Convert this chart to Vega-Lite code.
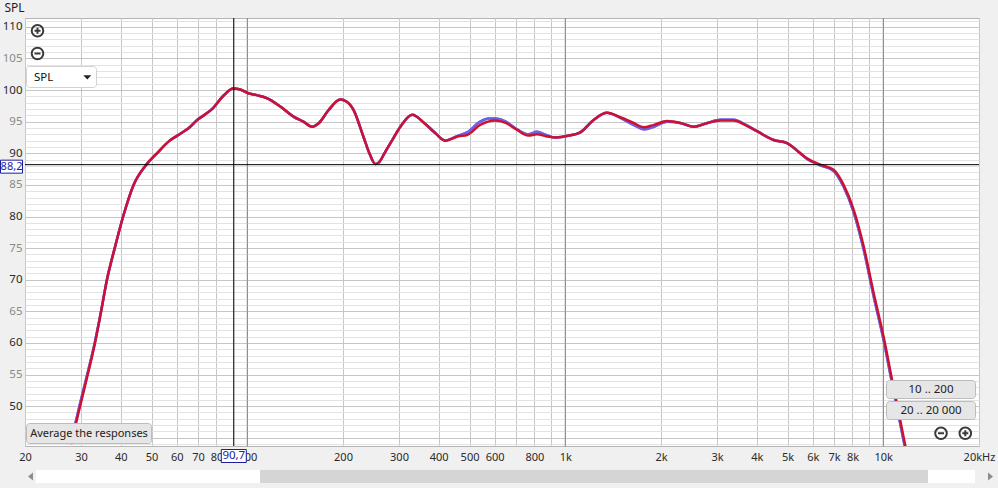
{
  "$schema": "https://vega.github.io/schema/vega-lite/v6.json",
  "width": 954,
  "height": 428,
  "padding": {"left": 25, "top": 18, "right": 19, "bottom": 42},
  "autosize": {"type": "none"},
  "background": "#f0f0f0",
  "config": {
    "view": {"fill": "white", "stroke": "#b4b4b4"},
    "font": "Noto Sans",
    "text": {"font": "Noto Sans"}
  },
  "datasets": {
    "red": [
      {"f": 27.9, "db": 44.0}, {"f": 29.0, "db": 47.5}, {"f": 29.8, "db": 50.0}, {"f": 31.5, "db": 55.0},
      {"f": 33.2, "db": 60.0}, {"f": 34.7, "db": 65.0}, {"f": 36.2, "db": 70.0}, {"f": 38.3, "db": 75.0},
      {"f": 40.7, "db": 80.0}, {"f": 43.9, "db": 85.0}, {"f": 47.8, "db": 88.0}, {"f": 52.0, "db": 90.0},
      {"f": 57.0, "db": 92.0}, {"f": 61.6, "db": 93.1}, {"f": 65.5, "db": 94.0}, {"f": 69.7, "db": 95.3},
      {"f": 74.0, "db": 96.2}, {"f": 78.2, "db": 97.2}, {"f": 84.1, "db": 99.1}, {"f": 90.4, "db": 100.25},
      {"f": 95.0, "db": 100.1}, {"f": 100.7, "db": 99.5}, {"f": 107, "db": 99.2}, {"f": 115.6, "db": 98.7},
      {"f": 127, "db": 97.4}, {"f": 139.7, "db": 95.8}, {"f": 150, "db": 95.0}, {"f": 160, "db": 94.2},
      {"f": 168, "db": 94.8}, {"f": 180, "db": 96.8}, {"f": 196, "db": 98.5}, {"f": 205, "db": 98.2},
      {"f": 215.6, "db": 96.9}, {"f": 231.6, "db": 92.7}, {"f": 243, "db": 89.8}, {"f": 252.8, "db": 88.3},
      {"f": 260, "db": 88.6}, {"f": 270, "db": 90.0}, {"f": 285, "db": 92.0}, {"f": 303, "db": 94.2},
      {"f": 330, "db": 96.1}, {"f": 360, "db": 94.8}, {"f": 390, "db": 93.2}, {"f": 419, "db": 92.0},
      {"f": 461, "db": 92.7}, {"f": 491, "db": 92.9}, {"f": 540, "db": 94.5}, {"f": 602, "db": 95.2},
      {"f": 650, "db": 94.8}, {"f": 705, "db": 93.7}, {"f": 765, "db": 92.8}, {"f": 815, "db": 93.0},
      {"f": 870, "db": 92.7}, {"f": 930, "db": 92.5}, {"f": 1030, "db": 92.8}, {"f": 1115, "db": 93.3},
      {"f": 1230, "db": 95.3}, {"f": 1353, "db": 96.4}, {"f": 1490, "db": 95.7}, {"f": 1640, "db": 94.8},
      {"f": 1764, "db": 94.1}, {"f": 1900, "db": 94.5}, {"f": 2088, "db": 95.1}, {"f": 2300, "db": 94.8},
      {"f": 2532, "db": 94.2}, {"f": 2800, "db": 94.8}, {"f": 3074, "db": 95.2}, {"f": 3384, "db": 95.2},
      {"f": 3700, "db": 94.4}, {"f": 4008, "db": 93.5}, {"f": 4520, "db": 92.1}, {"f": 4980, "db": 91.6},
      {"f": 5484, "db": 90.0}, {"f": 5756, "db": 89.2}, {"f": 6338, "db": 88.2}, {"f": 6980, "db": 87.4},
      {"f": 7504, "db": 85.0}, {"f": 8068, "db": 81.1}, {"f": 8674, "db": 75.3}, {"f": 9326, "db": 67.9},
      {"f": 10020, "db": 61.0}, {"f": 10652, "db": 54.2}, {"f": 11200, "db": 48.8}, {"f": 11732, "db": 43.7},
      {"f": 12100, "db": 40.5}
    ],
    "blue": [
      {"f": 27.9, "db": 44.4}, {"f": 29.0, "db": 47.9}, {"f": 29.8, "db": 50.4}, {"f": 31.5, "db": 55.3},
      {"f": 33.2, "db": 60.2}, {"f": 34.7, "db": 65.0}, {"f": 36.2, "db": 70.0}, {"f": 38.3, "db": 75.0},
      {"f": 40.7, "db": 80.0}, {"f": 43.9, "db": 85.0}, {"f": 47.8, "db": 88.0}, {"f": 52.0, "db": 90.0},
      {"f": 57.0, "db": 92.0}, {"f": 61.6, "db": 93.1}, {"f": 65.5, "db": 94.0}, {"f": 69.7, "db": 95.3},
      {"f": 74.0, "db": 96.2}, {"f": 78.2, "db": 97.2}, {"f": 84.1, "db": 99.1}, {"f": 90.4, "db": 100.25},
      {"f": 95.0, "db": 100.1}, {"f": 100.7, "db": 99.5}, {"f": 107, "db": 99.2}, {"f": 115.6, "db": 98.7},
      {"f": 127, "db": 97.4}, {"f": 139.7, "db": 95.8}, {"f": 150, "db": 95.0}, {"f": 160, "db": 94.2},
      {"f": 168, "db": 94.8}, {"f": 180, "db": 96.8}, {"f": 196, "db": 98.5}, {"f": 205, "db": 98.2},
      {"f": 215.6, "db": 96.9}, {"f": 231.6, "db": 92.7}, {"f": 243, "db": 89.8}, {"f": 252.8, "db": 88.3},
      {"f": 260, "db": 88.6}, {"f": 270, "db": 90.0}, {"f": 285, "db": 92.0}, {"f": 303, "db": 94.2},
      {"f": 330, "db": 96.1}, {"f": 360, "db": 94.8}, {"f": 390, "db": 93.2}, {"f": 419, "db": 92.0},
      {"f": 461, "db": 92.8}, {"f": 491, "db": 93.3}, {"f": 540, "db": 95.0}, {"f": 575, "db": 95.5},
      {"f": 602, "db": 95.5}, {"f": 650, "db": 95.0}, {"f": 705, "db": 93.8}, {"f": 765, "db": 93.0},
      {"f": 815, "db": 93.4}, {"f": 870, "db": 92.9}, {"f": 930, "db": 92.5}, {"f": 1030, "db": 92.8},
      {"f": 1115, "db": 93.3}, {"f": 1230, "db": 95.3}, {"f": 1353, "db": 96.4}, {"f": 1490, "db": 95.6},
      {"f": 1640, "db": 94.5}, {"f": 1764, "db": 93.8}, {"f": 1900, "db": 94.2}, {"f": 2088, "db": 95.0},
      {"f": 2300, "db": 94.8}, {"f": 2532, "db": 94.2}, {"f": 2800, "db": 94.8}, {"f": 3074, "db": 95.3},
      {"f": 3384, "db": 95.3}, {"f": 3700, "db": 94.5}, {"f": 4008, "db": 93.5}, {"f": 4520, "db": 92.1},
      {"f": 4980, "db": 91.6}, {"f": 5484, "db": 90.0}, {"f": 5756, "db": 89.1}, {"f": 6338, "db": 88.1},
      {"f": 6980, "db": 87.2}, {"f": 7504, "db": 84.7}, {"f": 8068, "db": 80.7}, {"f": 8674, "db": 74.8},
      {"f": 9326, "db": 67.4}, {"f": 10020, "db": 60.5}, {"f": 10652, "db": 53.7}, {"f": 11200, "db": 48.3},
      {"f": 11732, "db": 43.2}, {"f": 12100, "db": 40.0}
    ],
    "one": [{}]
  },
  "layer": [
    {
      "data": {"name": "blue"},
      "mark": {"type": "line", "color": "#6c62e6", "strokeWidth": 2.5, "interpolate": "monotone", "clip": true},
      "encoding": {
        "x": {
          "field": "f", "type": "quantitative",
          "scale": {"type": "log", "domain": [20, 20000], "nice": false},
          "axis": {
            "title": null,
            "tickCount": 200,
            "values": [20, 30, 40, 50, 60, 70, 80, 90, 100, 200, 300, 400, 500, 600, 700, 800, 900, 1000, 2000, 3000, 4000, 5000, 6000, 7000, 8000, 9000, 10000, 20000],
            "labelExpr": "indexof([90, 700, 900, 9000], datum.value) >= 0 ? '' : datum.value == 20000 ? '20kHz' : datum.value >= 1000 ? (datum.value / 1000) + 'k' : '' + datum.value",
            "grid": true,
            "gridColor": {"condition": {"test": "datum.value == 100 || datum.value == 1000 || datum.value == 10000", "value": "#8e8e8e"}, "value": "#c6c6c6"},
            "gridWidth": 1,
            "ticks": false,
            "domain": false,
            "labelFlush": false,
            "labelOverlap": false,
            "labelPadding": 5,
            "labelFontSize": 11,
            "labelColor": "#2a2a2a",
            "labelFont": "Noto Sans"
          }
        },
        "y": {
          "field": "db", "type": "quantitative",
          "scale": {"domain": [43.7, 111.4], "nice": false, "zero": false},
          "axis": {
            "title": "SPL",
            "titleAngle": 0,
            "titleX": -21,
            "titleY": -7,
            "titleAlign": "left",
            "titleBaseline": "alphabetic",
            "titleFontSize": 12,
            "titleFontWeight": "normal",
            "titleColor": "#1e1e1e",
            "titleFont": "Noto Sans",
            "tickCount": 200,
            "values": [44, 45, 46, 47, 48, 49, 50, 51, 52, 53, 54, 55, 56, 57, 58, 59, 60, 61, 62, 63, 64, 65, 66, 67, 68, 69, 70, 71, 72, 73, 74, 75, 76, 77, 78, 79, 80, 81, 82, 83, 84, 85, 86, 87, 88, 89, 90, 91, 92, 93, 94, 95, 96, 97, 98, 99, 100, 101, 102, 103, 104, 105, 106, 107, 108, 109, 110, 111],
            "labelExpr": "(datum.value % 5 == 0 && datum.value >= 50) ? '' + datum.value : ''",
            "grid": true,
            "gridColor": {"condition": {"test": "datum.value % 5 == 0", "value": "#c6c6c6"}, "value": "#e3e3e3"},
            "ticks": false,
            "domain": false,
            "labelOverlap": false,
            "labelPadding": 3,
            "labelFontSize": 11.5,
            "labelFont": "Noto Sans",
            "labelColor": {"condition": {"test": "datum.value % 10 == 0", "value": "#2a2a2a"}, "value": "#8a8a8a"}
          }
        }
      }
    },
    {
      "data": {"name": "one"},
      "layer": [
        {
          "mark": {"type": "rule", "color": "#8e8e8e", "strokeWidth": 1},
          "encoding": {"x": {"datum": 100, "type": "quantitative"}}
        },
        {
          "mark": {"type": "rule", "color": "#8e8e8e", "strokeWidth": 1},
          "encoding": {"x": {"datum": 1000, "type": "quantitative"}}
        },
        {
          "mark": {"type": "rule", "color": "#8e8e8e", "strokeWidth": 1},
          "encoding": {"x": {"datum": 10000, "type": "quantitative"}}
        }
      ]
    },
    {
      "data": {"name": "blue"},
      "mark": {"type": "line", "color": "#6c62e6", "strokeWidth": 2.5, "interpolate": "monotone", "clip": true},
      "encoding": {
        "x": {"field": "f", "type": "quantitative"},
        "y": {"field": "db", "type": "quantitative"}
      }
    },
    {
      "data": {"name": "red"},
      "mark": {"type": "line", "color": "#cc1133", "strokeWidth": 2.5, "interpolate": "monotone", "clip": true},
      "encoding": {
        "x": {"field": "f", "type": "quantitative"},
        "y": {"field": "db", "type": "quantitative"}
      }
    },
    {
      "data": {"name": "one"},
      "layer": [
        {
          "mark": {"type": "rule", "color": "#000000", "strokeWidth": 1},
          "encoding": {"x": {"datum": 90.7, "type": "quantitative"}}
        },
        {
          "mark": {"type": "rule", "color": "#000000", "strokeWidth": 1},
          "encoding": {"y": {"datum": 88.2, "type": "quantitative"}}
        },
        {
          "mark": {"type": "point", "shape": "M-24.5,-4.5H-2.5V8.5H-24.5Z", "size": 4, "filled": true, "fill": "#ffffff", "stroke": "#1c1c9c", "strokeWidth": 1, "opacity": 1},
          "encoding": {"x": {"datum": 20, "type": "quantitative"}, "y": {"datum": 88.2, "type": "quantitative"}}
        },
        {
          "mark": {"type": "text", "text": "88,2", "align": "center", "baseline": "middle", "dx": -13.5, "dy": 2.5, "fontSize": 11, "color": "#1c1ca8"},
          "encoding": {"x": {"datum": 20, "type": "quantitative"}, "y": {"datum": 88.2, "type": "quantitative"}}
        },
        {
          "mark": {"type": "point", "shape": "M-12.5,3.5H12.5V16.5H-12.5Z", "size": 4, "filled": true, "fill": "#ffffff", "stroke": "#1c1c9c", "strokeWidth": 1, "opacity": 1},
          "encoding": {"x": {"datum": 90.7, "type": "quantitative"}, "y": {"datum": 43.7, "type": "quantitative"}}
        },
        {
          "mark": {"type": "text", "text": "90,7", "align": "center", "baseline": "middle", "dy": 10, "fontSize": 11.5, "color": "#1c1ca8"},
          "encoding": {"x": {"datum": 90.7, "type": "quantitative"}, "y": {"datum": 43.7, "type": "quantitative"}}
        },
        {
          "mark": {"type": "point", "shape": "M6.7,12.8A5.8,5.8 0 1 1 18.3,12.8A5.8,5.8 0 1 1 6.7,12.8Z M9.5,12.8H15.5 M12.5,9.8V15.8 M6.7,35.5A5.8,5.8 0 1 1 18.3,35.5A5.8,5.8 0 1 1 6.7,35.5Z M9.5,35.5H15.5", "size": 4, "filled": false, "stroke": "#3a3a3a", "strokeWidth": 2, "opacity": 1},
          "encoding": {"x": {"datum": 20, "type": "quantitative"}, "y": {"datum": 111.4, "type": "quantitative"}}
        },
        {
          "mark": {"type": "point", "shape": "M4.5,48.5H68.5A3,3 0 0 1 71.5,51.5V66.5A3,3 0 0 1 68.5,69.5H4.5A3,3 0 0 1 1.5,66.5V51.5A3,3 0 0 1 4.5,48.5Z", "size": 4, "filled": true, "fill": "#ffffff", "stroke": "#d2d2d2", "strokeWidth": 1, "opacity": 1},
          "encoding": {"x": {"datum": 20, "type": "quantitative"}, "y": {"datum": 111.4, "type": "quantitative"}}
        },
        {
          "mark": {"type": "point", "shape": "M58.3,57.3H66.3L62.3,61.6Z", "size": 4, "filled": true, "fill": "#222222", "strokeWidth": 0, "opacity": 1},
          "encoding": {"x": {"datum": 20, "type": "quantitative"}, "y": {"datum": 111.4, "type": "quantitative"}}
        },
        {
          "mark": {"type": "text", "text": "SPL", "align": "left", "baseline": "middle", "dx": 9, "dy": 59.5, "fontSize": 11.5, "color": "#111111"},
          "encoding": {"x": {"datum": 20, "type": "quantitative"}, "y": {"datum": 111.4, "type": "quantitative"}}
        },
        {
          "mark": {"type": "point", "shape": "M4.5,-22.5H123.5A3,3 0 0 1 126.5,-19.5V-5.5A3,3 0 0 1 123.5,-2.5H4.5A3,3 0 0 1 1.5,-5.5V-19.5A3,3 0 0 1 4.5,-22.5Z", "size": 4, "filled": true, "fill": "#e6e6e6", "stroke": "#bcbcbc", "strokeWidth": 1, "opacity": 1},
          "encoding": {"x": {"datum": 20, "type": "quantitative"}, "y": {"datum": 43.7, "type": "quantitative"}}
        },
        {
          "mark": {"type": "text", "text": "Average the responses", "align": "center", "baseline": "middle", "dx": 64, "dy": -12.5, "fontSize": 11, "color": "#222222"},
          "encoding": {"x": {"datum": 20, "type": "quantitative"}, "y": {"datum": 43.7, "type": "quantitative"}}
        },
        {
          "mark": {"type": "point", "shape": "M11,24H235V37H11Z", "size": 4, "filled": true, "fill": "#ffffff", "strokeWidth": 0, "opacity": 1},
          "encoding": {"x": {"datum": 20, "type": "quantitative"}, "y": {"datum": 43.7, "type": "quantitative"}}
        },
        {
          "mark": {"type": "point", "shape": "M235,24H903V37H235Z", "size": 4, "filled": true, "fill": "#d5d5d5", "strokeWidth": 0, "opacity": 1},
          "encoding": {"x": {"datum": 20, "type": "quantitative"}, "y": {"datum": 43.7, "type": "quantitative"}}
        },
        {
          "mark": {"type": "point", "shape": "M3,30.5L8,26.5V34.5Z", "size": 4, "filled": true, "fill": "#8c8c8c", "strokeWidth": 0, "opacity": 1},
          "encoding": {"x": {"datum": 20, "type": "quantitative"}, "y": {"datum": 43.7, "type": "quantitative"}}
        },
        {
          "mark": {"type": "point", "shape": "M-51,24H-4V37H-51Z", "size": 4, "filled": true, "fill": "#ffffff", "strokeWidth": 0, "opacity": 1},
          "encoding": {"x": {"datum": 20000, "type": "quantitative"}, "y": {"datum": 43.7, "type": "quantitative"}}
        },
        {
          "mark": {"type": "point", "shape": "M9,26.5L14,30.5L9,34.5Z", "size": 4, "filled": true, "fill": "#8c8c8c", "strokeWidth": 0, "opacity": 1},
          "encoding": {"x": {"datum": 20000, "type": "quantitative"}, "y": {"datum": 43.7, "type": "quantitative"}}
        },
        {
          "mark": {"type": "point", "shape": "M-89.5,-65.5H-6.5A3,3 0 0 1 -3.5,-62.5V-50.5A3,3 0 0 1 -6.5,-47.5H-89.5A3,3 0 0 1 -92.5,-50.5V-62.5A3,3 0 0 1 -89.5,-65.5Z M-89.5,-44.5H-6.5A3,3 0 0 1 -3.5,-41.5V-29.5A3,3 0 0 1 -6.5,-26.5H-89.5A3,3 0 0 1 -92.5,-29.5V-41.5A3,3 0 0 1 -89.5,-44.5Z", "size": 4, "filled": true, "fill": "#e6e6e6", "stroke": "#bcbcbc", "strokeWidth": 1, "opacity": 1},
          "encoding": {"x": {"datum": 20000, "type": "quantitative"}, "y": {"datum": 43.7, "type": "quantitative"}}
        },
        {
          "mark": {"type": "text", "text": "10 .. 200", "align": "center", "baseline": "middle", "dx": -48, "dy": -56.5, "fontSize": 11.5, "color": "#222222"},
          "encoding": {"x": {"datum": 20000, "type": "quantitative"}, "y": {"datum": 43.7, "type": "quantitative"}}
        },
        {
          "mark": {"type": "text", "text": "20 .. 20 000", "align": "center", "baseline": "middle", "dx": -48, "dy": -35.5, "fontSize": 11.5, "color": "#222222"},
          "encoding": {"x": {"datum": 20000, "type": "quantitative"}, "y": {"datum": 43.7, "type": "quantitative"}}
        },
        {
          "mark": {"type": "point", "shape": "M-43.8,-12.7A5.8,5.8 0 1 1 -32.2,-12.7A5.8,5.8 0 1 1 -43.8,-12.7Z M-41,-12.7H-35 M-19.5,-12.7A5.8,5.8 0 1 1 -7.9,-12.7A5.8,5.8 0 1 1 -19.5,-12.7Z M-16.7,-12.7H-10.7 M-13.7,-15.7V-9.7", "size": 4, "filled": false, "stroke": "#3a3a3a", "strokeWidth": 2, "opacity": 1},
          "encoding": {"x": {"datum": 20000, "type": "quantitative"}, "y": {"datum": 43.7, "type": "quantitative"}}
        }
      ]
    }
  ]
}
